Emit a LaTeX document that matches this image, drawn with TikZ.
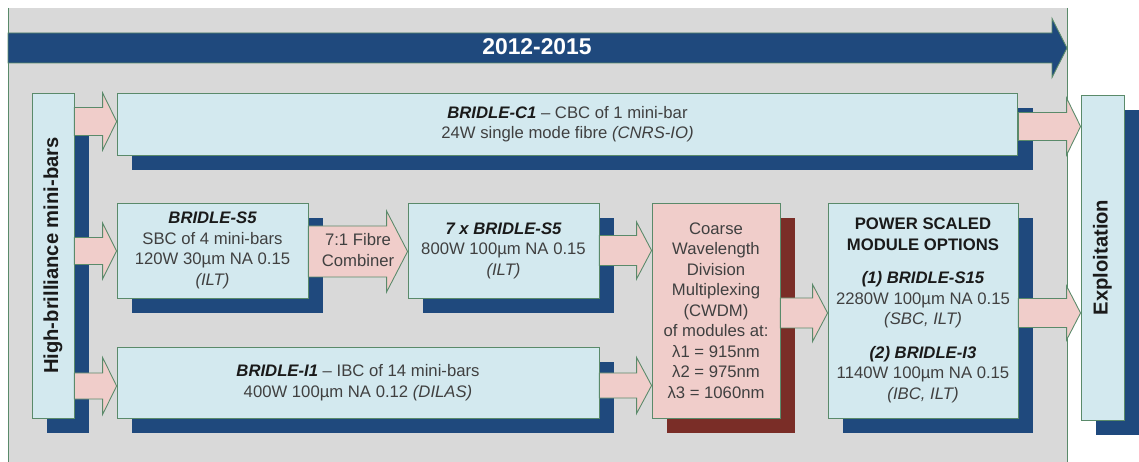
\documentclass[tikz,border=0pt]{standalone}
\usepackage{fontspec}
\setmainfont{Liberation Sans}
\usepackage{tikz}
\usepackage{xcolor}
\usepackage{graphicx}
\usetikzlibrary{calc,shadows}

\definecolor{bggray}{HTML}{D9D9D9}
\definecolor{boxfill}{HTML}{D3E9EF}
\definecolor{pinkfill}{HTML}{F0CDCA}
\definecolor{navy}{HTML}{1F497D}
\definecolor{darkred}{HTML}{7A2D27}
\definecolor{edge}{HTML}{5A8A6A}
\definecolor{txtgray}{HTML}{404040}
\definecolor{namecol}{HTML}{1A1A1A}

\newcommand{\bname}[1]{\textcolor{namecol}{\bfseries\itshape #1}}
% block arrow: tail point, tip point, half shaft, half head, head length
\newcommand{\blockarrow}[6][flow]{%
  \draw[#1] ($(#2)+(0,-#4)$) -- ($(#3)+(-#6,-#4)$) -- ($(#3)+(-#6,-#5)$) -- (#3)
    -- ($(#3)+(-#6,#5)$) -- ($(#3)+(-#6,#4)$) -- ($(#2)+(0,#4)$) -- cycle;}

\begin{document}
\begin{tikzpicture}[x=0.02cm, y=-0.02cm,
  box/.style={draw=edge, fill=boxfill, line width=0.5pt, text=txtgray, align=center,
    inner sep=0pt, font=\fontsize{9.5}{11.7}\selectfont},
  pinkbox/.style={box, fill=pinkfill},
  blueshadow/.style={copy shadow={shadow xshift=0.3cm, shadow yshift=-0.3cm, fill=navy, draw=none}},
  redshadow/.style={copy shadow={shadow xshift=0.3cm, shadow yshift=-0.3cm, fill=darkred, draw=none}},
  flow/.style={draw=edge, fill=pinkfill, line width=0.5pt},
  timeline/.style={draw=edge, fill=navy, line width=0.5pt}]
\useasboundingbox (0,0) rectangle (1139,462);

% background panel
\fill[bggray] (8,8) rectangle (1067,462);
\draw[edge, line width=0.5pt] (8,8) -- (8,462) (1067,8) -- (1067,462);

% time line
\coordinate (tstart) at (8,48);
\coordinate (tend) at (1067,48);
\blockarrow[timeline]{tstart}{tend}{15}{29.5}{15}
\node[text=white, font=\fontsize{13}{15}\selectfont\bfseries] (years) at (537,47) {2012-2015};

% boxes
\node[box, blueshadow, minimum width=0.84cm, minimum height=6.5cm, text=namecol] (mini) at (53,255.5)
  {\rotatebox{90}{\fontsize{11.5}{13}\selectfont\bfseries High-brilliance mini-bars}};
\node[box, blueshadow, minimum width=18.02cm, minimum height=1.24cm] (c1) at (567.5,124)
  {\bname{BRIDLE-C1} – CBC of 1 mini-bar\\24W single mode fibre \textit{(CNRS-IO)}};
\node[box, blueshadow, minimum width=3.82cm, minimum height=1.9cm] (s5) at (212.5,250.5)
  {\bname{BRIDLE-S5}\\SBC of 4 mini-bars\\120W 30µm NA 0.15\\\textit{(ILT)}};
\node[box, blueshadow, minimum width=3.82cm, minimum height=1.9cm] (s5x7) at (503.5,250.5)
  {\bname{7 x BRIDLE-S5}\\800W 100µm NA 0.15\\\textit{(ILT)}};
\node[box, blueshadow, minimum width=9.64cm, minimum height=1.42cm] (i1) at (358,382.5)
  {\bname{BRIDLE-I1} – IBC of 14 mini-bars\\400W 100µm NA 0.12 \textit{(DILAS)}};
\node[pinkbox, redshadow, minimum width=2.56cm, minimum height=4.3cm] (cwdm) at (716,310.5)
  {Coarse\\Wavelength\\Division\\Multiplexing\\(CWDM)\\of modules at:\\λ1 = 915nm\\λ2 = 975nm\\λ3 = 1060nm};
\node[box, blueshadow, minimum width=3.8cm, minimum height=4.3cm] (power) at (923,310.5)
  {\textcolor{namecol}{\bfseries POWER SCALED}\\\textcolor{namecol}{\bfseries MODULE OPTIONS}\\[0.26cm]
   \bname{(1) BRIDLE-S15}\\2280W 100µm NA 0.15\\\textit{(SBC, ILT)}\\[0.26cm]
   \bname{(2) BRIDLE-I3}\\1140W 100µm NA 0.15\\\textit{(IBC, ILT)}};
\node[box, blueshadow, minimum width=0.86cm, minimum height=6.5cm, text=namecol] (expl) at (1102.5,257.5)
  {\rotatebox{90}{\fontsize{11.5}{13}\selectfont\bfseries Exploitation}};

% arrows
\blockarrow{mini.east |- 0,121.5}{c1.west |- 0,121.5}{14}{28.5}{14}
\blockarrow{mini.east |- 0,251}{s5.west |- 0,251}{13.5}{28}{14}
\blockarrow{mini.east |- 0,386}{i1.west |- 0,386}{13}{28.5}{14}
\blockarrow{s5.east |- 0,251.5}{s5x7.west |- 0,251.5}{25.5}{40.5}{21}
\node[text=txtgray, align=center, font=\fontsize{9.5}{11.7}\selectfont] (fibre) at (358,250) {7:1 Fibre\\Combiner};
\blockarrow{s5x7.east |- 0,250.5}{cwdm.west |- 0,250.5}{15}{28.5}{15}
\blockarrow{i1.east |- 0,385.5}{cwdm.west |- 0,385.5}{12.5}{28}{15}
\blockarrow{cwdm.east |- 0,313}{power.west |- 0,313}{15}{28.5}{15}
\blockarrow{c1.east |- 0,126.5}{expl.west |- 0,126.5}{14}{28.5}{14}
\blockarrow{power.east |- 0,313}{expl.west |- 0,313}{14.5}{27}{14}
\end{tikzpicture}
\end{document}
